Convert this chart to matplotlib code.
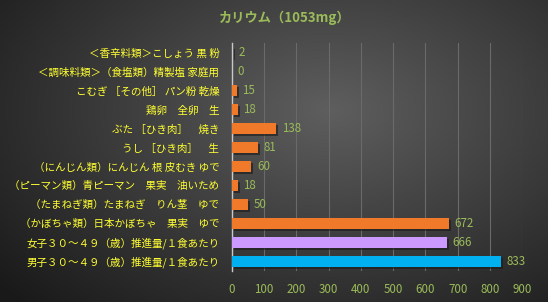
import numpy as np
import matplotlib
matplotlib.use("Agg")
import matplotlib.pyplot as plt
import matplotlib.patheffects as pe

plt.rcParams['font.family'] = ['Noto Sans CJK JP', 'DejaVu Sans']

# données (haut -> bas)
labels = [
    "＜香辛料類＞こしょう 黒 粉",
    "＜調味料類＞（食塩類）精製塩 家庭用",
    "こむぎ ［その他］ パン粉 乾燥",
    "鶏卵　全卵　生",
    "ぶた ［ひき肉］　焼き",
    "うし ［ひき肉］　生",
    "（にんじん類）にんじん 根 皮むき ゆで",
    "（ピーマン類）青ピーマン　果実　油いため",
    "（たまねぎ類）たまねぎ　りん茎　ゆで",
    "（かぼちゃ類）日本かぼちゃ　果実　ゆで",
    "女子３０～４９（歳）推進量/１食あたり",
    "男子３０～４９（歳）推進量/１食あたり",
]
values = [2, 0, 15, 18, 138, 81, 60, 18, 50, 672, 666, 833]
colors = ["#f07a2a"] * 10 + ["#cc99ff", "#00b0f0"]
title = "カリウム（1053mg）"
xticks = list(range(0, 1000, 100))

fig = plt.figure(figsize=(5.48, 3.02), dpi=100)

# fond en dégradé
bg = fig.add_axes([0, 0, 1, 1])
yy, xx = np.mgrid[0:302, 0:548]
d = np.sqrt(((xx - 330) / 420.0) ** 2 + ((yy - 110) / 260.0) ** 2)
g = np.clip(0.37 - 0.26 * d, 0.1, 0.4)
bg.imshow(np.dstack([g, g, g]), aspect='auto', extent=[0, 1, 0, 1])
bg.axis('off')

ax = fig.add_axes([0.423, 0.1035, 0.53, 0.7535])
ax.patch.set_alpha(0)
y = np.arange(len(values))
bars = ax.barh(y, values, height=0.58, color=colors, zorder=3)
for b in bars:
    b.set_path_effects([pe.SimplePatchShadow(offset=(1.5, -1.5), shadow_rgbFace='#1a1a1a', alpha=0.6), pe.Normal()])

for yi, v in zip(y, values):
    ax.text(v + 18, yi, str(v), va='center', ha='left', color='#9bbb59', fontsize=8.3)

ax.set_xlim(0, 900)
ax.set_ylim(len(values) - 0.5, -0.5)
ax.set_xticks(xticks)
ax.set_xticklabels([str(t) for t in xticks], color='#9bbb59', fontsize=8.3)
ax.set_yticks(y)
ax.set_yticklabels(labels, color='#ffff33', fontsize=7.6)
ax.tick_params(length=0, pad=9)
ax.tick_params(axis='x', pad=9)
ax.grid(axis='x', color='#6a6a6a', linewidth=0.8, zorder=0)
for s in ['top', 'right', 'bottom']:
    ax.spines[s].set_visible(False)
ax.spines['left'].set_color('#c8c8c8')
ax.spines['left'].set_linewidth(1)

fig.text(0.52, 0.94, title, ha='center', va='center', color='#9bbb59', fontsize=9.5, fontweight='bold')

fig.savefig("out.png", dpi=100)
